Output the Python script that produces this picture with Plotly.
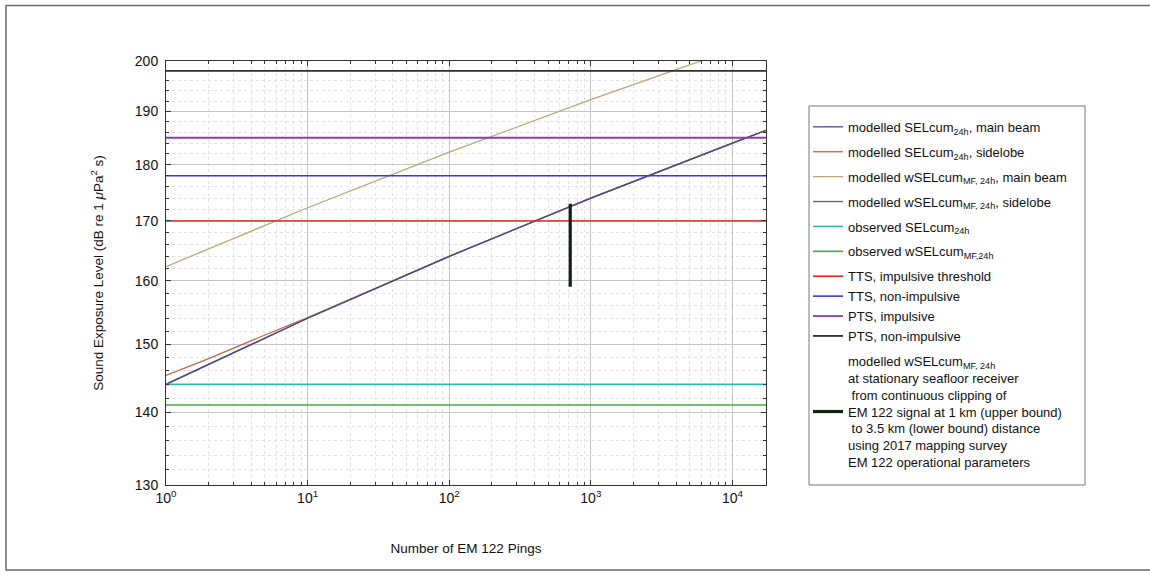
import plotly.graph_objects as go

# ---------------- data ----------------
pings = [1, 10, 100, 1000, 10000, 17250]
sel_main_beam = [144.0, 154.0, 164.0, 174.0, 184.0, 186.4]

pings_side = [1, 2, 5, 10, 100, 1000, 10000, 17250]
sel_sidelobe = [145.3, 147.8, 151.4, 154.1, 164.0, 174.0, 184.0, 186.4]

wsel_main_beam = [162.3, 172.3, 182.3, 192.3, 202.3, 204.7]
wsel_sidelobe = [144.0, 154.0, 164.0, 174.0, 184.0, 186.4]

x_span = [1, 17250]
observed_sel = 144.0
observed_wsel = 141.0
tts_impulsive = 170.0
tts_non_impulsive = 178.0
pts_impulsive = 185.0
pts_non_impulsive = 198.0

clip_pings = [715, 715]
clip_range = [159.0, 173.0]

x_tickvals = [1, 10, 100, 1000, 10000]
x_ticktext = ["10<sup>0</sup>", "10<sup>1</sup>", "10<sup>2</sup>", "10<sup>3</sup>", "10<sup>4</sup>"]
y_tickvals = [130, 140, 150, 160, 170, 180, 190, 200]

FONT = "Liberation Sans, Arial, Helvetica, sans-serif"
TXT = "#111111"

fig = go.Figure()

def add(x, y, name, color, width, group):
    fig.add_trace(go.Scatter(x=x, y=y, mode="lines", name=name, legendgroup=group,
                             line=dict(color=color, width=width), hoverinfo="skip"))

add(pings_side, sel_sidelobe, "modelled SELcum<sub>24h</sub>, sidelobe", "#c0654c", 1.3, "g2")
add(pings, wsel_sidelobe, "modelled wSELcum<sub>MF, 24h</sub>, sidelobe", "#5f5f66", 1.3, "g4")
add(pings, sel_main_beam, "modelled SELcum<sub>24h</sub>, main beam", "#4f4a86", 1.3, "g1")
add(pings, wsel_main_beam, "modelled wSELcum<sub>MF, 24h</sub>, main beam", "#bda578", 1.3, "g3")
add(x_span, [observed_sel] * 2, "observed SELcum<sub>24h</sub>", "#2fb8b0", 1.6, "g5")
add(x_span, [observed_wsel] * 2, "observed wSELcum<sub>MF,24h</sub>", "#3cae3c", 1.6, "g6")
add(x_span, [tts_impulsive] * 2, "TTS, impulsive threshold", "#ee2222", 1.6, "g7")
add(x_span, [tts_non_impulsive] * 2, "TTS, non-impulsive", "#3a3ad6", 1.6, "g7")
add(x_span, [pts_impulsive] * 2, "PTS, impulsive", "#8e3fa6", 1.8, "g7")
add(x_span, [pts_non_impulsive] * 2, "PTS, non-impulsive", "#2e2e2e", 1.8, "g7")

nb = "\u00a0"
last_label = ("modelled wSELcum<sub>MF, 24h</sub><br>at stationary seafloor receiver<br>"
              + nb + "from continuous clipping of<br>EM 122 signal at 1 km (upper bound)<br>"
              + nb + "to 3.5 km (lower bound) distance<br>using 2017 mapping survey<br>"
              "EM 122 operational parameters")
add(clip_pings, clip_range, last_label, "#142014", 3.2, "g8")

# legend order: as in reference
order = [2, 0, 3, 1, 4, 5, 6, 7, 8, 9, 10]
for rank, idx in enumerate(order):
    fig.data[idx].legendrank = rank + 1

x_minor = [m * 10 ** d for d in range(0, 5) for m in range(2, 10)]
y_minor = [v for v in range(130, 201, 2) if v % 10 != 0]

axis_common = dict(
    showline=True, linecolor="#333333", linewidth=1, mirror="allticks",
    ticks="inside", ticklen=5, tickcolor="#333333",
    showgrid=True, gridcolor="#c4c4c4", gridwidth=1,
    tickfont=dict(family=FONT, size=14, color=TXT),
    zeroline=False,
)

fig.update_layout(
    width=1150, height=576,
    margin=dict(l=166, r=384, t=61, b=91),
    paper_bgcolor="white", plot_bgcolor="white",
    font=dict(family=FONT, size=13, color=TXT),
    xaxis=dict(
        type="log", range=[0, 4.2368],
        tickmode="array", tickvals=x_tickvals, ticktext=x_ticktext,
        minor=dict(tickvals=x_minor, ticks="inside", ticklen=3, tickcolor="#333333",
                   showgrid=True, gridcolor="#e2e2e2", griddash="dot"),
        title=dict(text="Number of EM 122 Pings", font=dict(family=FONT, size=13.5, color=TXT),
                   standoff=38),
        **axis_common,
    ),
    yaxis=dict(
        type="log", range=[2.113943, 2.301030],
        tickmode="array", tickvals=y_tickvals, ticktext=[str(v) for v in y_tickvals],
        minor=dict(tickvals=y_minor, ticks="inside", ticklen=3, tickcolor="#333333",
                   showgrid=True, gridcolor="#e2e2e2", griddash="dot"),
        title=dict(text="Sound Exposure Level (dB re 1 <i>\u03bc</i>Pa<sup>2</sup> s)",
                   font=dict(family=FONT, size=13.5, color=TXT), standoff=28),
        ticklabelstandoff=4,
        **axis_common,
    ),
    showlegend=True,
    legend=dict(
        x=1.07, xanchor="left", y=0.88, yanchor="top",
        bgcolor="rgba(0,0,0,0)", borderwidth=0,
        font=dict(family=FONT, size=13, color=TXT),
        tracegroupgap=5, traceorder="grouped", valign="middle",
    ),
    shapes=[
        dict(type="rect", xref="paper", yref="paper", x0=1.0717, x1=1.5317, y0=0.0, y1=0.8939,
             line=dict(color="#777777", width=1), fillcolor="rgba(0,0,0,0)", layer="above"),
        dict(type="rect", xref="paper", yref="paper",
             x0=(6 - 166) / 600, x1=(1156 - 166) / 600,
             y0=(485 - 570) / 424, y1=(485 - 5.5) / 424,
             line=dict(color="#6a6a6a", width=1.5), fillcolor="rgba(0,0,0,0)", layer="above"),
    ],
)

fig.write_html("out.html")
